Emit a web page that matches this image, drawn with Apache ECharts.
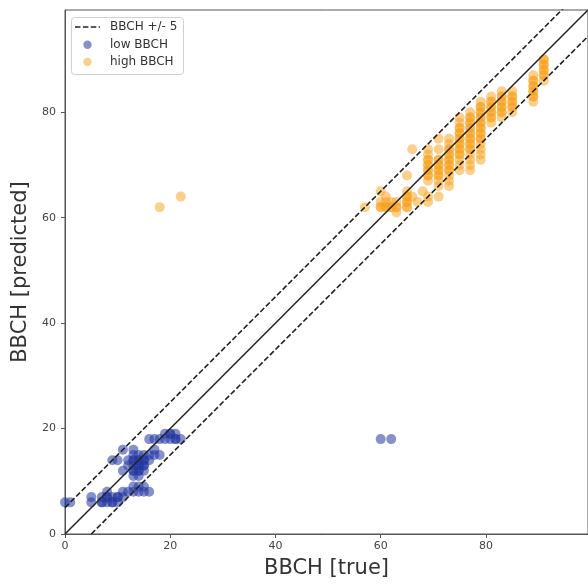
<!DOCTYPE html>
<html>
<head>
<meta charset="utf-8">
<script src="https://cdn.jsdelivr.net/npm/echarts@6/dist/echarts.min.js"></script>
<style>html,body{margin:0;padding:0;background:#fff}#c{width:588px;height:584px}</style>
</head>
<body>
<div id="c"></div>
<script>
// ---- data ----
var tickValues = [0, 20, 40, 60, 80];
var legendLabels = ['BBCH +/- 5', 'low BBCH', 'high BBCH'];
var lowTrue = [0,1,5,5,7,8,9,10,7,8,9,10,11,8,11,12,13,14,15,16,13,14,15,9,10,11,11,12,12,13,13,13,13,13,13,14,14,14,14,14,15,15,15,15,16,16,17,17,18,16,17,18,19,20,21,20,21,22,60,62,
  13,14,15,13,14,15,14,7,8,9,10,19,20,21];
var lowPred = [6,6,6,7,6,6,6,6,7,7,7,7,7,8,8,8,8,8,8,8,9,9,9,14,14,16,12,13,14,11,12,13,14,15,16,11,12,13,14,15,12,13,14,15,14,15,15,16,15,18,18,18,19,19,19,18,18,18,18,18,
  12,13,14,14,14,13,12,6,7,6,7,18,19,18];
var highTrue = [18,22,57,60,60,60,61,61,62,62,63,63,61,63,65,65,65,65,65,66,66,67,68,69,69,71,
  69,69,69,69,69,69,69,71,71,71,71,71,71,71,71,73,73,73,73,73,73,73,73,73,73,
  75,75,75,75,75,75,75,75,75,75,75,77,77,77,77,77,77,77,77,77,77,77,77,
  79,79,79,79,79,79,79,79,79,79,79,79,81,81,81,81,81,81,83,83,83,83,83,83,
  85,85,85,85,85,89,89,89,89,89,89,91,91,91,91,91,
  60,61,62,63,65,65,65,69,69,69,69,71,71,71,71,73,73,73,73,73,
  75,75,75,75,75,75,77,77,77,77,77,77,77,79,79,79,79,79,79,79,
  81,81,81,81,83,83,83,83,85,85,85,89,89,89,89,91,91,91,91];
var highPred = [62,64,62,65,62,63,62,63,62,63,62,63,64,61,62,63,64,65,68,64,73,63,65,63,64,64,
  67,68,69,70,71,72,73,66,67,68,69,70,71,73,75,66,67,68,69,70,71,72,73,74,75,
  69,70,71,72,73,74,75,76,77,78,79,69,70,71,72,73,74,75,76,77,78,79,80,
  71,72,73,74,75,76,77,78,79,80,81,82,78,79,80,81,82,83,79,80,81,82,83,84,
  80,81,82,83,84,82,83,84,85,86,87,86,87,88,89,90,
  62,62,62,62,62,63,64,68,69,70,71,68,69,70,71,69,70,71,72,73,
  72,73,74,75,76,77,73,74,75,76,77,78,79,75,76,77,78,79,80,81,
  79,80,81,82,80,81,82,83,81,82,83,83,84,85,86,87,88,89,90];
var identityLine = [[0,0],[100,100]];
var upperLine = [[0,5],[100,105]];
var lowerLine = [[5,0],[105,100]];
var axisMax = 99.4;

function pairs(xs, ys){ var o=[]; for(var i=0;i<xs.length;i++) o.push([xs[i], ys[i]]); return o; }

var FONT = 'DejaVu Sans';
var LOW_COLOR = 'rgb(35,55,160)', HIGH_COLOR = '#f7a21b';
var LOW_OP = 0.55, HIGH_OP = 0.5;
var LINE_COLOR = '#222';
var chart = echarts.init(document.getElementById('c'), null, {renderer:'canvas'});
var axisCommon = {
  type:'value', min:0, max:axisMax, interval:20,
  splitLine:{show:false},
  axisLine:{show:true, lineStyle:{color:'#555', width:1}},
  axisTick:{show:true, length:4, lineStyle:{color:'#555'}, customValues:tickValues},
  axisLabel:{color:'#444', fontSize:11, fontFamily:FONT, customValues:tickValues},
  nameLocation:'middle',
  nameTextStyle:{color:'#333', fontSize:21, fontFamily:FONT}
};
var legendTextStyle = {fill:'#333', fontSize:12, fontFamily:FONT, verticalAlign:'middle', align:'left'};
chart.setOption({
  animation:false,
  grid:{left:65, top:10, right:-4, bottom:47, show:true, borderColor:'#555', borderWidth:1, containLabel:false},
  xAxis: Object.assign({}, axisCommon, {name:'BBCH [true]', nameGap:24,
    axisLabel:Object.assign({}, axisCommon.axisLabel, {margin:7})}),
  yAxis: Object.assign({}, axisCommon, {name:'BBCH [predicted]', nameGap:28,
    axisLabel:Object.assign({}, axisCommon.axisLabel, {margin:9})}),
  graphic:[
    {type:'rect', left:71, top:17, z:100, shape:{width:112, height:57, r:3},
      style:{fill:'rgba(255,255,255,0.9)', stroke:'#d0d0d0', lineWidth:1}},
    {type:'line', z:101, shape:{x1:75, y1:27, x2:100, y2:27},
      style:{stroke:LINE_COLOR, lineWidth:1.5, lineDash:[5.5,2.4]}},
    {type:'circle', z:101, shape:{cx:87.5, cy:44.7, r:4.2}, style:{fill:LOW_COLOR, opacity:LOW_OP}},
    {type:'circle', z:101, shape:{cx:87.5, cy:62, r:4.2}, style:{fill:HIGH_COLOR, opacity:HIGH_OP}},
    {type:'text', z:101, x:110, y:27, style:Object.assign({text:legendLabels[0]}, legendTextStyle)},
    {type:'text', z:101, x:110, y:44.7, style:Object.assign({text:legendLabels[1]}, legendTextStyle)},
    {type:'text', z:101, x:110, y:62, style:Object.assign({text:legendLabels[2]}, legendTextStyle)}
  ],
  series:[
    {type:'line', name:'identity', data:identityLine, symbol:'none', silent:true,
      lineStyle:{color:LINE_COLOR, width:1.5}, clip:true, z:3},
    {type:'line', name:legendLabels[0], data:upperLine, symbol:'none', silent:true,
      lineStyle:{color:LINE_COLOR, width:1.6, type:[5.5,2.4]}, clip:true, z:3},
    {type:'line', name:legendLabels[0], data:lowerLine, symbol:'none', silent:true,
      lineStyle:{color:LINE_COLOR, width:1.6, type:[5.5,2.4]}, clip:true, z:3},
    {type:'scatter', name:legendLabels[1], data:pairs(lowTrue, lowPred), symbolSize:10,
      itemStyle:{color:LOW_COLOR, opacity:LOW_OP}, z:2},
    {type:'scatter', name:legendLabels[2], data:pairs(highTrue, highPred), symbolSize:10,
      itemStyle:{color:HIGH_COLOR, opacity:HIGH_OP}, z:2}
  ]
});
</script>
</body>
</html>
